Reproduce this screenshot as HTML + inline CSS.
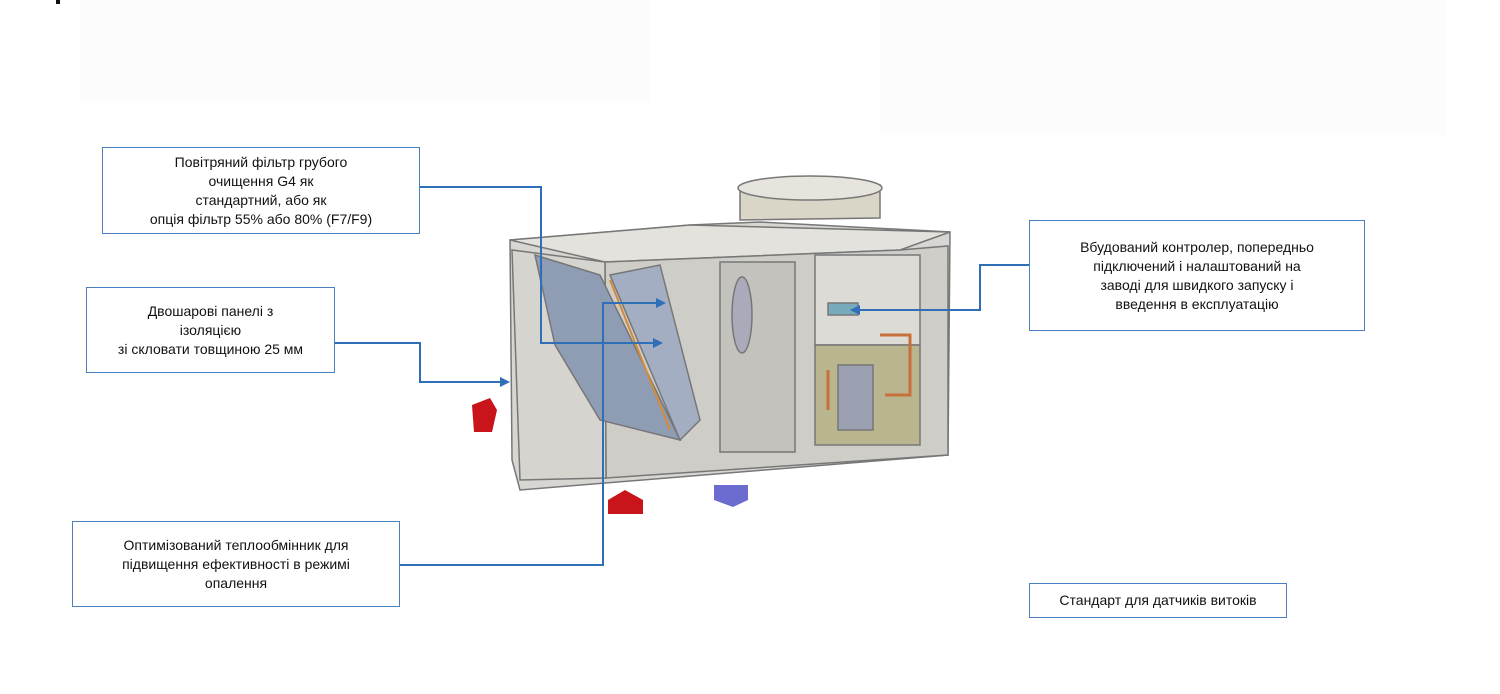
<!DOCTYPE html>
<html><head><meta charset="utf-8"><style>
body{margin:0;width:1500px;height:694px;background:#fff;position:relative;overflow:hidden;font-family:"Liberation Sans","DejaVu Sans",sans-serif}
.b{position:absolute;border:1.5px solid #4a7fc0;background:#fff;font-size:14px;line-height:19px;text-align:center;color:#111;box-sizing:border-box;display:flex;align-items:center;justify-content:center}
svg{position:absolute;left:0;top:0}
</style></head><body>
<div style="position:absolute;left:80px;top:0;width:570px;height:103px;background:#fcfcfc"></div>
<div style="position:absolute;left:880px;top:0;width:567px;height:135px;background:#fcfcfc"></div>
<div style="position:absolute;left:56px;top:0;width:4px;height:4px;background:#111"></div>
<svg width="1500" height="694">
<!-- unit -->
<g stroke="#777" stroke-width="1.5">
<polygon points="510,240 690,225 760,222 950,232 948,455 520,490 512,460" fill="#d8d6d2"/>
<polygon points="510,240 690,225 950,232 900,250 605,262" fill="#e4e2dc"/>
<polygon points="605,262 900,250 948,246 948,455 606,478" fill="#cfcdc8"/>
<polygon points="512,250 605,262 606,478 520,480" fill="#d6d4cf"/>
<polygon points="535,255 600,275 680,440 600,420 555,345" fill="#8e9cb4"/>
<polygon points="610,275 660,265 700,420 680,440" fill="#a3aec3"/>
<rect x="720" y="262" width="75" height="190" fill="#c4c2bc"/>
<rect x="815" y="255" width="105" height="90" fill="#dddbd6"/>
<rect x="815" y="345" width="105" height="100" fill="#b9b58f"/>
<rect x="838" y="365" width="35" height="65" fill="#9aa0b0"/>
<ellipse cx="742" cy="315" rx="10" ry="38" fill="#aab"/>
<rect x="828" y="303" width="30" height="12" fill="#7ab"/>
<polygon points="740,220 880,218 880,185 740,188" fill="#d9d6c8"/>
<ellipse cx="810" cy="188" rx="72" ry="12" fill="#e6e4dc"/>
</g>
<path d="M880,335 h30 v60 h-25 M828,370 v40" stroke="#c8703c" stroke-width="3" fill="none"/>
<path d="M610,280 L670,430" stroke="#d58a3a" stroke-width="2"/>
<polygon points="472,405 490,398 497,410 492,432 474,432" fill="#c8141a"/>
<polygon points="608,500 625,490 643,500 643,514 608,514" fill="#c8141a"/>
<polygon points="714,485 748,485 748,500 733,507 714,500" fill="#6b6bd0"/>
<!-- connectors -->
<g stroke="#2f6fb8" stroke-width="2" fill="none">
<path d="M420,187 H541 V343 H655"/>
<path d="M400,565 H603 V303 H658"/>
<path d="M335,343 H420 V382 H502"/>
<path d="M1029,265 H980 V310 H858"/>
</g>
<g fill="#2f6fb8">
<polygon points="663,343 653,338 653,348"/>
<polygon points="666,303 656,298 656,308"/>
<polygon points="510,382 500,377 500,387"/>
<polygon points="850,310 860,305 860,315"/>
</g>
</svg>
<div class="b" style="left:102px;top:147px;width:318px;height:87px">Повітряний фільтр грубого<br>очищення G4 як<br>стандартний, або як<br>опція фільтр 55% або 80% (F7/F9)</div>
<div class="b" style="left:86px;top:287px;width:249px;height:86px">Двошарові панелі з<br>ізоляцією<br>зі скловати товщиною 25 мм</div>
<div class="b" style="left:1029px;top:220px;width:336px;height:111px">Вбудований контролер, попередньо<br>підключений і налаштований на<br>заводі для швидкого запуску і<br>введення в експлуатацію</div>
<div class="b" style="left:72px;top:521px;width:328px;height:86px">Оптимізований теплообмінник для<br>підвищення ефективності в режимі<br>опалення</div>
<div class="b" style="left:1029px;top:583px;width:258px;height:35px">Стандарт для датчиків витоків</div>
</body></html>
